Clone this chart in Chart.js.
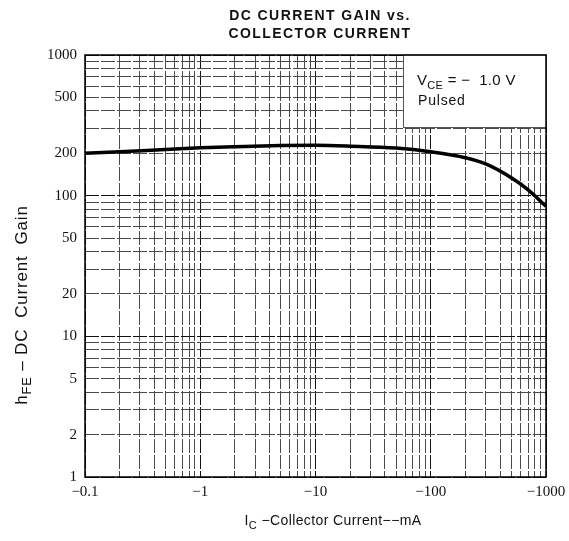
<!DOCTYPE html>
<html>
<head>
<meta charset="utf-8">
<script src="https://cdn.jsdelivr.net/npm/chart.js@4.4.0/dist/chart.umd.min.js"></script>
<style>
  html, body { margin: 0; padding: 0; background: #fff; }
</style>
</head>
<body>
<canvas id="gainChart" width="569" height="541"></canvas>
<script>
// values (Ic in mA, hFE)
const collectorCurrent = [0.1, 0.2, 0.5, 1, 2, 5, 10, 20, 50, 100, 200, 300, 500, 700, 1000];
const dcGain = [200, 205, 213, 219, 223, 227, 228, 225, 218, 205, 186, 168, 134, 110, 84];

const xLabelValues = [0.1, 1, 10, 100, 1000];
const xLabelText = ['\u22120.1', '\u22121', '\u221210', '\u2212100', '\u22121000'];
const yLabelValues = [1, 2, 5, 10, 20, 50, 100, 200, 500, 1000];

const titleLines = ['DC CURRENT GAIN vs.', 'COLLECTOR CURRENT'];
const conditionText = ['V', 'CE', ' = \u2212  1.0 V'];
const conditionText2 = 'Pulsed';

const SANS = '"Liberation Sans", Arial, sans-serif';
const SERIF = '"Liberation Serif", "Times New Roman", serif';

// log paper grid: every 1..9 step of each decade
function logGrid(min, max) {
  const out = [];
  for (let d = min; d < max; d *= 10) {
    for (let k = 1; k < 10; k++) out.push(d * k);
  }
  out.push(max);
  return out;
}
const xGridValues = logGrid(0.1, 1000);
const yGridValues = logGrid(1, 1000);

function isDecade(v) {
  const l = Math.log10(v);
  return Math.abs(l - Math.round(l)) < 1e-9;
}

// draws text pieces, every second piece as a subscript
function drawRich(ctx, parts, x, y, size, align, spacing) {
  const big = `${size}px ${SANS}`;
  const small = `${Math.round(size * 0.75)}px ${SANS}`;
  ctx.letterSpacing = (spacing || 0) + 'px';
  let total = 0;
  parts.forEach((p, i) => {
    ctx.font = i % 2 === 1 ? small : big;
    total += ctx.measureText(p).width;
  });
  let cx = align === 'center' ? x - total / 2 : x;
  ctx.textAlign = 'left';
  ctx.textBaseline = 'alphabetic';
  parts.forEach((p, i) => {
    const sub = i % 2 === 1;
    ctx.font = sub ? small : big;
    ctx.fillText(p, cx, sub ? y + 4 : y);
    cx += ctx.measureText(p).width;
  });
  ctx.letterSpacing = '0px';
}

const decorations = {
  id: 'decorations',
  afterDraw(chart) {
    const { ctx, chartArea: a } = chart;
    ctx.save();

    // condition box in top right corner
    ctx.fillStyle = '#fff';
    ctx.fillRect(a.right - 143, a.top, 143, 72);
    ctx.strokeStyle = '#555';
    ctx.lineWidth = 1;
    ctx.strokeRect(a.right - 143 + 0.5, a.top, 143, 72.5);
    ctx.fillStyle = '#111';
    drawRich(ctx, conditionText, a.right - 129, a.top + 30, 15, 'left', 0.3);
    drawRich(ctx, [conditionText2], a.right - 128, a.top + 50, 14, 'left', 0.8);

    // frame
    ctx.strokeStyle = '#000';
    ctx.lineWidth = 1.5;
    ctx.strokeRect(a.left, a.top, a.right - a.left, a.bottom - a.top);

    // title
    ctx.font = `bold 14px ${SANS}`;
    ctx.letterSpacing = '1.4px';
    ctx.textAlign = 'center';
    ctx.textBaseline = 'middle';
    ctx.fillText(titleLines[0], 320, 16);
    ctx.fillText(titleLines[1], 320, 34);
    ctx.letterSpacing = '0px';

    // x axis title
    drawRich(ctx, ['I', 'C', ' \u2212Collector Current\u2212\u2212mA'], 333, 525, 14, 'center', 0.4);

    // y axis title
    ctx.translate(27, 305);
    ctx.rotate(-Math.PI / 2);
    drawRich(ctx, ['h', 'FE', ' \u2013 DC  Current  Gain'], 0, 0, 17, 'center', 0.8);
    ctx.restore();
  }
};

const chart = new Chart(document.getElementById('gainChart').getContext('2d'), {
  type: 'line',
  data: {
    datasets: [{
      data: collectorCurrent.map((x, i) => ({ x: x, y: dcGain[i] })),
      borderColor: '#000',
      borderWidth: 3.5,
      pointRadius: 0,
      fill: false,
      cubicInterpolationMode: 'monotone'
    }]
  },
  options: {
    responsive: false,
    animation: false,
    devicePixelRatio: 1,
    layout: { padding: { top: 55, right: 23, bottom: 0, left: 0 } },
    plugins: {
      legend: { display: false },
      tooltip: { enabled: false }
    },
    scales: {
      x: {
        type: 'logarithmic',
        min: 0.1,
        max: 1000,
        afterBuildTicks: s => { s.ticks = xGridValues.map(v => ({ value: v })); },
        afterFit: s => { s.height = 64; s.paddingLeft = 0; s.paddingRight = 0; },
        ticks: {
          autoSkip: false,
          maxRotation: 0,
          padding: 6,
          color: '#111',
          font: { family: SERIF, size: 15 },
          callback: v => {
            const i = xLabelValues.indexOf(v);
            return i < 0 ? '' : xLabelText[i];
          }
        },
        grid: {
          drawTicks: false,
          color: c => (c.tick && isDecade(c.tick.value) ? '#111' : '#4a4a4a'),
          lineWidth: 1
        },
        border: { display: false, dash: [14, 2] }
      },
      y: {
        type: 'logarithmic',
        min: 1,
        max: 1000,
        afterBuildTicks: s => { s.ticks = yGridValues.map(v => ({ value: v })); },
        afterFit: s => { s.width = 85; s.paddingTop = 0; s.paddingBottom = 0; },
        ticks: {
          autoSkip: false,
          padding: 8,
          color: '#111',
          font: { family: SERIF, size: 15 },
          callback: v => (yLabelValues.includes(v) ? String(v) : '')
        },
        grid: {
          drawTicks: false,
          color: c => (c.tick && isDecade(c.tick.value) ? '#111' : '#4a4a4a'),
          lineWidth: 1
        },
        border: { display: false, dash: [14, 2] }
      }
    }
  },
  plugins: [decorations]
});
</script>
</body>
</html>
